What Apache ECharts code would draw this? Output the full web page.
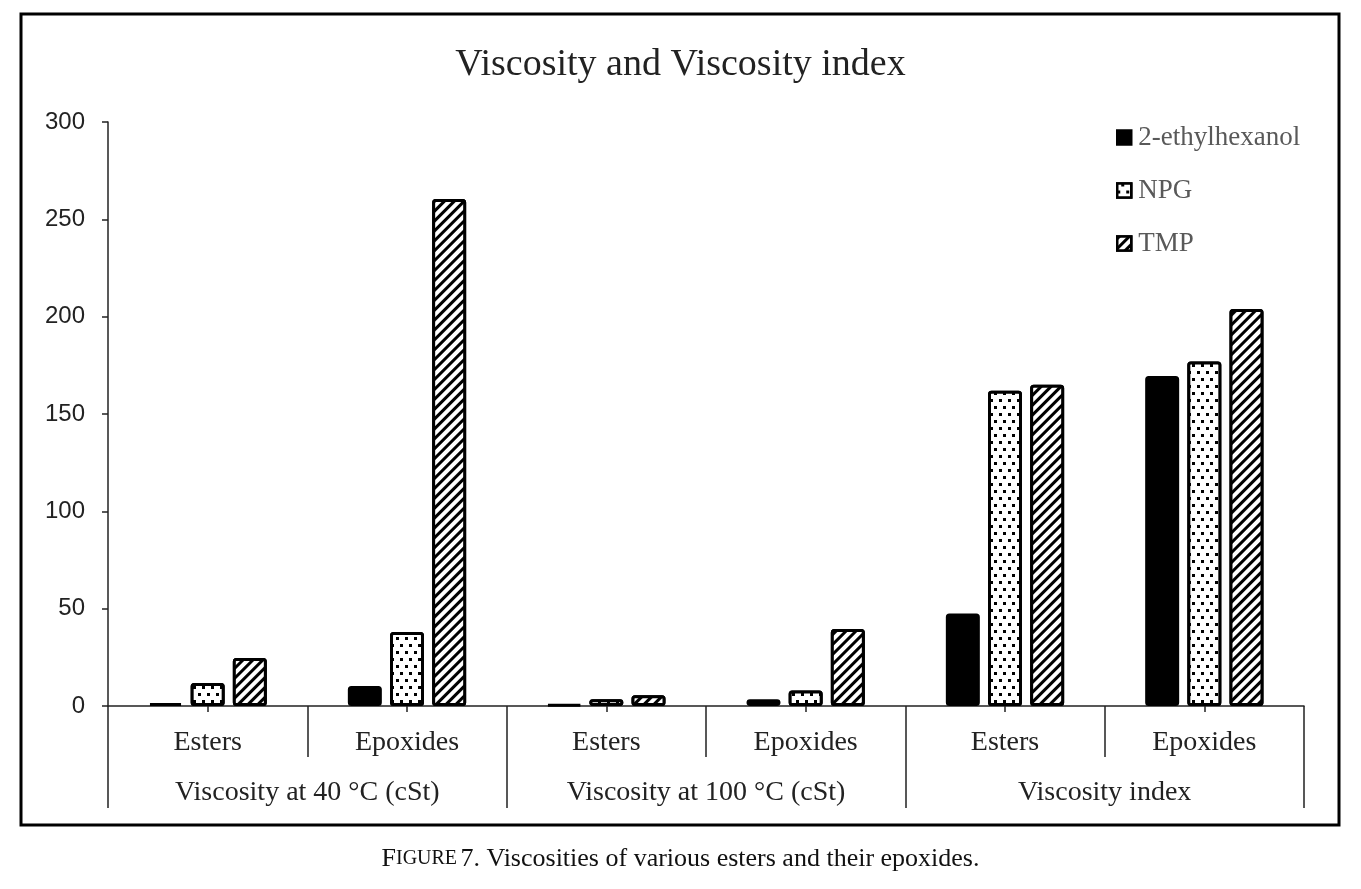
<!DOCTYPE html>
<html>
<head>
<meta charset="utf-8">
<script src="https://cdn.jsdelivr.net/npm/echarts@6/dist/echarts.min.js"></script>
<style>
  html, body { margin: 0; padding: 0; background: #fff; }
  #main { width: 1361px; height: 889px; }
</style>
</head>
<body>
<div id="main"></div>
<script>
// chart data
var subCategories = ['Esters', 'Epoxides', 'Esters', 'Epoxides', 'Esters', 'Epoxides'];
var groupCategories = ['Viscosity at 40 °C (cSt)', 'Viscosity at 100 °C (cSt)', 'Viscosity index'];
var seriesNames = ['2-ethylhexanol', 'NPG', 'TMP'];
var ethylhexanol = [1.5, 10.3, 0.8, 3.5, 47.5, 169.5];
var npg = [11.8, 38, 3.5, 8, 162, 177];
var tmp = [24.6, 260.4, 5.5, 39.5, 165, 204];
var yTicks = { min: 0, max: 300, interval: 50 };

var serif = 'Liberation Serif';
var sans = 'Liberation Sans';

var chart = echarts.init(document.getElementById('main'));

var barCommon = {
  type: 'bar',
  barWidth: 34,
  barGap: '24%',
  xAxisIndex: 0
};

var option = {
  backgroundColor: '#fff',
  animation: false,
  title: {
    text: 'Viscosity and Viscosity index',
    left: 'center',
    top: 41,
    textStyle: { fontFamily: serif, fontSize: 38, fontWeight: 'normal', color: '#222' }
  },
  legend: {
    orient: 'vertical',
    left: 1111,
    top: 119,
    itemGap: 26,
    itemWidth: 14,
    itemHeight: 14,
    icon: 'rect',
    data: seriesNames,
    itemStyle: { borderColor: '#000', borderWidth: 2.5 },
    textStyle: { fontFamily: serif, fontSize: 27, color: '#595959', padding: [0, 0, 0, 2] }
  },
  grid: { left: 108, right: 57, top: 122, bottom: 183 },
  xAxis: [
    {
      type: 'category',
      data: subCategories,
      position: 'bottom',
      axisLine: { lineStyle: { color: '#222', width: 1.5 } },
      axisTick: { show: true, alignWithLabel: false, length: 51, lineStyle: { color: '#222', width: 1.5 } },
      axisLabel: { margin: 23, fontFamily: serif, fontSize: 28, color: '#222' }
    },
    {
      type: 'category',
      data: groupCategories,
      position: 'bottom',
      offset: 102,
      axisLine: { show: false },
      axisTick: { show: true, inside: true, alignWithLabel: false, length: 102, lineStyle: { color: '#222', width: 1.5 } },
      axisLabel: { inside: true, margin: 1, fontFamily: serif, fontSize: 28, color: '#222' }
    },
    {
      type: 'category',
      data: subCategories,
      position: 'bottom',
      axisLine: { show: false },
      axisTick: { show: true, alignWithLabel: true, length: 6, lineStyle: { color: '#222', width: 1.5 } },
      axisLabel: { show: false }
    }
  ],
  yAxis: {
    type: 'value',
    min: yTicks.min,
    max: yTicks.max,
    interval: yTicks.interval,
    axisLine: { show: true, lineStyle: { color: '#222', width: 1.5 } },
    axisTick: { show: true, length: 6, lineStyle: { color: '#222', width: 1.5 } },
    splitLine: { show: false },
    axisLabel: { margin: 23, fontFamily: sans, fontSize: 24, color: '#222' }
  },
  series: [
    Object.assign({}, barCommon, {
      name: seriesNames[0],
      data: ethylhexanol,
      itemStyle: { color: '#000', borderColor: '#000', borderWidth: 3, borderRadius: 2 }
    }),
    Object.assign({}, barCommon, {
      name: seriesNames[1],
      data: npg,
      itemStyle: {
        color: '#fff', borderColor: '#000', borderWidth: 3, borderRadius: 2,
        decal: {
          symbol: 'rect',
          symbolSize: 1,
          color: '#000',
          backgroundColor: '#fff',
          dashArrayX: [[2.5, 5.5], [0, 4, 2.5, 1.5]],
          dashArrayY: [2.5, 3.5],
          rotation: 0
        }
      }
    }),
    Object.assign({}, barCommon, {
      name: seriesNames[2],
      data: tmp,
      itemStyle: {
        color: '#fff', borderColor: '#000', borderWidth: 3, borderRadius: 2,
        decal: {
          symbol: 'rect',
          symbolSize: 1,
          color: '#000',
          backgroundColor: '#fff',
          dashArrayX: [1, 0],
          dashArrayY: [3, 3.5],
          rotation: -Math.PI / 4
        }
      }
    })
  ],
  graphic: [
    {
      type: 'rect',
      shape: { x: 21, y: 14, width: 1318, height: 811 },
      style: { fill: null, stroke: '#000', lineWidth: 3 },
      silent: true
    },
    {
      type: 'text',
      left: 'center',
      top: 846,
      style: {
        text: '{big|F}{small|IGURE} {big|7. Viscosities of various esters and their epoxides.}',
        rich: {
          big: { fontFamily: serif, fontSize: 26, fill: '#111' },
          small: { fontFamily: serif, fontSize: 20, fill: '#111' }
        }
      }
    }
  ]
};

chart.setOption(option);
</script>
</body>
</html>
